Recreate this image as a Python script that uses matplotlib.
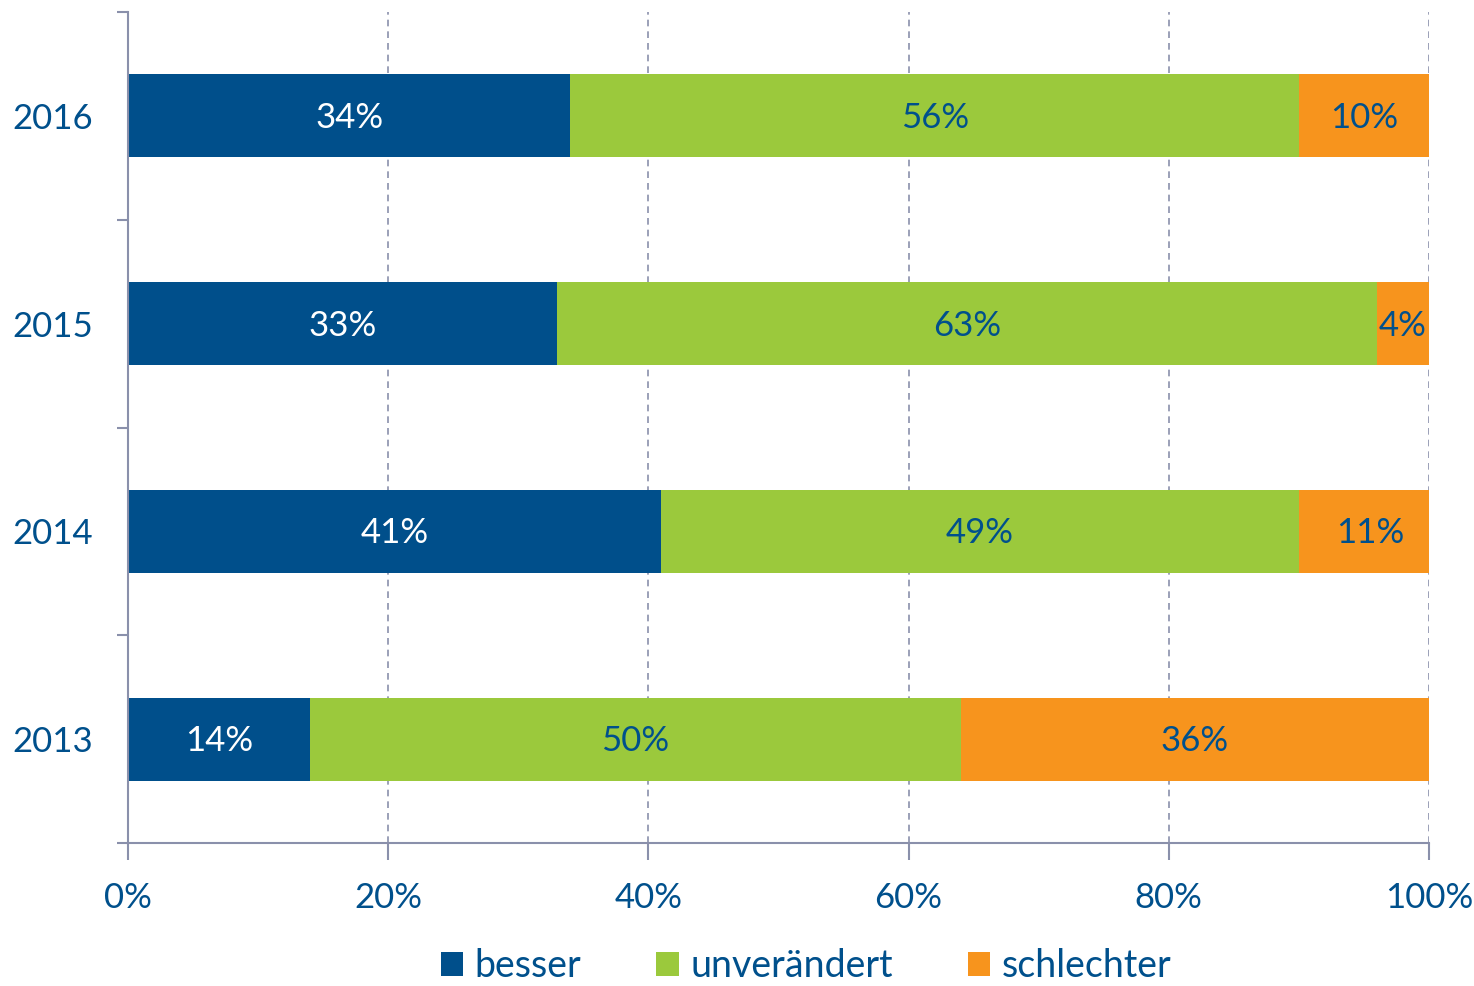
import matplotlib
matplotlib.use("Agg")
import matplotlib.pyplot as plt
from matplotlib.patches import Patch
import numpy as np

years = ["2013", "2014", "2015", "2016"]
besser = [14, 41, 33, 34]
unveraendert = [50, 49, 63, 56]
schlechter = [36, 11, 4, 10]
series_names = ["besser", "unverändert", "schlechter"]
xtick_labels = ["0%", "20%", "40%", "60%", "80%", "100%"]

colors = ["#004F8B", "#9BC93C", "#F7941D"]
text_blue = "#00508C"
axis_col = "#8A90AB"

plt.rcParams['font.family'] = ['Lato', 'DejaVu Sans']

fig = plt.figure(figsize=(14.74, 9.86), dpi=100)
ax = fig.add_axes([128/1474, 1-843/986, (1429-128)/1474, (843-12)/986])

y = np.arange(len(years))
left = np.zeros(len(years))
data = [besser, unveraendert, schlechter]
for vals, c, name in zip(data, colors, series_names):
    vals = np.array(vals, dtype=float)
    ax.barh(y, vals, left=left, height=0.4, color=c, label=name, edgecolor='none')
    for yi, l, v in zip(y, left, vals):
        tc = "white" if c == colors[0] else text_blue
        ax.text(l + v/2, yi - 0.01, f"{int(v)}%", ha='center', va='center', color=tc, fontsize=25)
    left += vals

ax.set_xlim(0, 100)
ax.set_ylim(-0.5, len(years)-0.5)
ax.set_xticks(np.arange(0, 101, 20))
ax.set_xticklabels(xtick_labels, fontsize=25, color=text_blue)
ax.set_yticks(y)
ax.set_yticklabels(years, fontsize=25, color=text_blue)
ax.set_yticks(np.arange(-0.5, len(years), 1), minor=True)
ax.tick_params(axis='y', which='major', length=0, pad=25)
ax.tick_params(axis='y', which='minor', length=8, width=1.5, color=axis_col, direction='out')
ax.tick_params(axis='x', which='major', length=12, width=1.5, color=axis_col, direction='out', pad=16)

ax.grid(axis='x', linestyle=(0, (4, 3)), color=axis_col, linewidth=1.2)
ax.set_axisbelow(True)
for s in ['top', 'right']:
    ax.spines[s].set_visible(False)
for s in ['left', 'bottom']:
    ax.spines[s].set_color(axis_col)
    ax.spines[s].set_linewidth(1.5)

handles = [Patch(facecolor=c, edgecolor='none') for c in colors]
leg = fig.legend(handles, series_names, loc='center', bbox_to_anchor=(806/1474, 1-966/986),
                 ncol=3, frameon=False, fontsize=27, handlelength=0.6, handleheight=0.6,
                 handletextpad=0.3, columnspacing=2.0)
for t in leg.get_texts():
    t.set_color(text_blue)

fig.savefig("out.png", dpi=100)
